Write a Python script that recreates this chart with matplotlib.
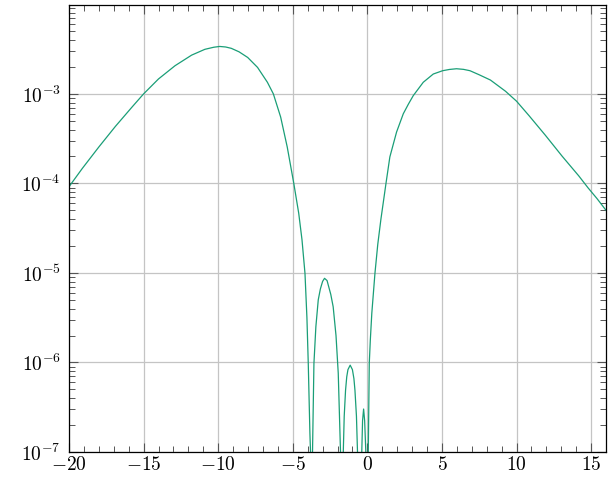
import numpy as np
import matplotlib
matplotlib.use("Agg")
import matplotlib.pyplot as plt
from matplotlib.ticker import FixedLocator, FuncFormatter, LogLocator, MultipleLocator

# Data: x and log10 of the plotted magnitude.
# A value of -9 marks a zero crossing (drawn below the lower axis limit).
x = [-20.0, -19.11, -18.0, -16.89, -15.78, -15.0, -14.0, -12.89, -11.78, -10.89,
     -10.3, -9.9, -9.5, -9.12, -8.6, -8.02, -7.36, -6.70, -6.30, -5.81,
     -5.37, -4.93, -4.60, -4.38, -4.18, -4.05, -3.96, -3.85, -3.80, -3.74,
     -3.68, -3.58, -3.45, -3.29, -3.15, -3.00, -2.87, -2.70, -2.45, -2.29,
     -2.10, -1.95, -1.79, -1.70, -1.62, -1.55, -1.46, -1.38, -1.30, -1.15,
     -1.00, -0.90, -0.83, -0.73, -0.65, -0.50, -0.38, -0.32, -0.25, -0.18,
     -0.09, -0.01, 0.06, 0.13, 0.20, 0.30, 0.51, 0.70, 0.91, 1.25,
     1.51, 1.96, 2.41, 2.75, 3.08, 3.75, 4.42, 5.05, 5.5, 5.98,
     6.45, 6.88, 7.48, 8.25, 9.26, 10.0, 10.83, 11.94, 13.06, 14.17,
     14.8, 15.4, 16.0]
logy = [-4.037, -3.833, -3.593, -3.363, -3.148, -3.0, -2.833, -2.685, -2.567, -2.502,
        -2.479, -2.470, -2.476, -2.491, -2.530, -2.593, -2.704, -2.870, -3.0, -3.259,
        -3.593, -4.0, -4.333, -4.63, -5.005, -5.5, -6.01, -6.79, -7.05, -9.0,
        -7.05, -6.01, -5.6, -5.30, -5.18, -5.095, -5.06, -5.085, -5.24, -5.378,
        -5.7, -6.12, -7.05, -9.0, -7.05, -6.6, -6.31, -6.16, -6.08, -6.03,
        -6.08, -6.18, -6.31, -6.6, -7.05, -9.0, -7.05, -6.65, -6.52, -6.65,
        -7.05, -9.0, -7.05, -6.01, -5.75, -5.45, -5.005, -4.68, -4.40, -4.0,
        -3.704, -3.426, -3.222, -3.115, -3.019, -2.870, -2.778, -2.741, -2.727, -2.719,
        -2.726, -2.741, -2.785, -2.845, -2.970, -3.081, -3.241, -3.463, -3.696, -3.915,
        -4.05, -4.17, -4.30]
y = [10.0 ** v for v in logy]

xticks = [-20, -15, -10, -5, 0, 5, 10, 15]
yticks = [1e-7, 1e-6, 1e-5, 1e-4, 1e-3]

plt.rcParams['mathtext.fontset'] = 'cm'
plt.rcParams['font.family'] = 'serif'
plt.rcParams['font.serif'] = ['cmr10', 'DejaVu Serif']
plt.rcParams['axes.formatter.use_mathtext'] = True

fig = plt.figure(figsize=(6.08, 4.78), dpi=100)
ax = fig.add_axes([69/608, 1 - 452/478, (606-69)/608, (452-5)/478])

ax.plot(x, y, color='#1a9e77', lw=0.9)
ax.set_yscale('log')
ax.set_xlim(-20, 16)
ax.set_ylim(1e-7, 10 ** -2.007)

ax.xaxis.set_major_locator(FixedLocator(xticks))
ax.xaxis.set_minor_locator(MultipleLocator(1))
ax.yaxis.set_major_locator(FixedLocator(yticks))
ax.yaxis.set_minor_locator(LogLocator(base=10, subs=np.arange(2, 10), numticks=20))

def fx(v, pos):
    return r'$%d$' % int(round(v))

def fy(v, pos):
    e = int(round(np.log10(v)))
    return r'$10^{%d}$' % e

ax.xaxis.set_major_formatter(FuncFormatter(fx))
ax.yaxis.set_major_formatter(FuncFormatter(fy))
ax.yaxis.set_minor_formatter(FuncFormatter(lambda v, p: ''))

ax.grid(True, which='major', color='#c4c4c4', lw=0.9)
ax.set_axisbelow(True)
ax.tick_params(which='both', direction='in', top=True, right=True, color='#555555', labelsize=14)
ax.tick_params(which='major', length=6.5, width=0.8)
ax.tick_params(which='minor', length=4.5, width=0.7)
ax.tick_params(axis='x', which='major', pad=3)
ax.tick_params(axis='y', which='major', pad=6)
for s in ax.spines.values():
    s.set_linewidth(0.9)
    s.set_color('black')

fig.savefig('out.png', dpi=100)
